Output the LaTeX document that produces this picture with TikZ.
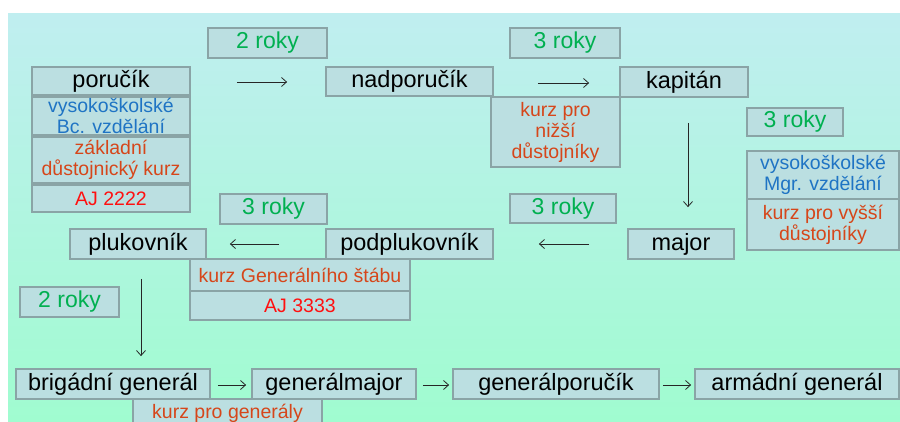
\documentclass[tikz,border=0pt]{standalone}
\usepackage{xcolor}
\usepackage{fontspec}
\setmainfont{Liberation Sans}
\usetikzlibrary{positioning,arrows.meta}

\definecolor{bgtop}{HTML}{C0EEF0}
\definecolor{bgbot}{HTML}{A0FCD0}
\definecolor{boxfill}{HTML}{BBDFE1}
\definecolor{boxline}{HTML}{8AA4A6}
\definecolor{rokygreen}{HTML}{00B050}
\definecolor{studyblue}{HTML}{1F74C4}
\definecolor{kurzorange}{HTML}{D6461A}
\definecolor{ajred}{HTML}{FF1010}

\begin{document}
\begin{tikzpicture}[x=1pt, y=-1pt,
    box/.style={draw=boxline, line width=1.8pt, fill=boxfill, inner sep=0pt, align=center},
    rank/.style={box, font=\fontsize{23.5}{25}\selectfont},
    roky/.style={box, text=rokygreen, font=\fontsize{23}{25}\selectfont},
    study/.style={box, text=studyblue, font=\fontsize{19.5}{20.5}\selectfont},
    kurz/.style={box, text=kurzorange, font=\fontsize{19.5}{21}\selectfont},
    aj/.style={box, text=ajred, font=\fontsize{19.5}{21}\selectfont},
    step arrow/.style={draw=black!85, line width=0.8pt, -{Straight Barb[length=5pt,width=9pt]}}]
\useasboundingbox (0,0) rectangle (900,421);
\clip (0,0) rectangle (900,421);
\shade[top color=bgtop, bottom color=bgbot] (8,13) rectangle (900,421);

% first row
\node[roky, minimum width=119pt, minimum height=30pt] (roky_1) at (267.5,43) {2 roky};
\node[rank, minimum width=158pt, minimum height=28pt] (porucik) at (111,81) {poručík};
\node[study, minimum width=158pt, minimum height=38pt] (porucik_bc) at (111,116) {vysokoškolské\\Bc. vzdělání};
\node[kurz, minimum width=158pt, minimum height=46pt] (porucik_kurz) at (111,160) {základní\\důstojnický kurz};
\node[aj, minimum width=158pt, minimum height=27pt] (porucik_aj) at (111,198.5) {AJ 2222};
\node[rank, minimum width=167pt, minimum height=29pt] (nadporucik) at (409.5,81.5) {nadporučík};
\node[roky, minimum width=110pt, minimum height=30pt] (roky_2) at (565,43) {3 roky};
\node[rank, minimum width=128pt, minimum height=30pt] (kapitan) at (684,82) {kapitán};
\node[kurz, minimum width=129pt, minimum height=70pt] (nadporucik_kurz) at (555.5,132) {kurz pro\\nižší\\důstojníky};

% right column
\node[roky, minimum width=96pt, minimum height=28pt] (roky_3) at (795,122) {3 roky};
\node[study, minimum width=152pt, minimum height=48pt] (major_mgr) at (823,175) {vysokoškolské\\Mgr. vzdělání};
\node[kurz, minimum width=152pt, minimum height=51pt] (major_kurz) at (823,224.5) {kurz pro vyšší\\důstojníky};

% second row
\node[roky, minimum width=107pt, minimum height=30pt] (roky_4) at (273.5,209) {3 roky};
\node[roky, minimum width=106pt, minimum height=29pt] (roky_5) at (563,208.5) {3 roky};
\node[rank, minimum width=136pt, minimum height=30pt] (plukovnik) at (138,244) {plukovník};
\node[rank, minimum width=167pt, minimum height=30pt] (podplukovnik) at (409.5,244) {podplukovník};
\node[rank, minimum width=106pt, minimum height=30pt] (major) at (681,244) {major};
\node[kurz, minimum width=220pt, minimum height=32pt] (stab_kurz) at (300,275) {kurz Generálního štábu};
\node[aj, minimum width=220pt, minimum height=29pt] (stab_aj) at (300,305.5) {AJ 3333};
\node[roky, minimum width=99pt, minimum height=30pt] (roky_6) at (69.5,302) {2 roky};

% generals
\node[rank, minimum width=194pt, minimum height=30pt] (brigadni) at (113,384) {brigádní generál};
\node[rank, minimum width=164pt, minimum height=30pt] (genmajor) at (334,384) {generálmajor};
\node[rank, minimum width=206pt, minimum height=30pt] (genporucik) at (556,384) {generálporučík};
\node[rank, minimum width=204pt, minimum height=30pt] (armadni) at (797,384) {armádní generál};
\node[kurz, minimum width=189pt, minimum height=28pt] (general_kurz) at (227.5,413) {kurz pro generály};

\draw[step arrow, shorten <=46pt, shorten >=38pt] ([yshift=-1pt]porucik.east) -- ([yshift=-1pt]porucik.east -| nadporucik.west);
\draw[step arrow, shorten <=44pt, shorten >=30pt] ([yshift=-1.5pt]nadporucik.east) -- ([yshift=-1.5pt]nadporucik.east -| kapitan.west);
\draw[step arrow, shorten <=25pt, shorten >=21pt] ([xshift=4pt]kapitan.south) -- ([xshift=4pt]kapitan.south |- major.north);
\draw[step arrow, shorten <=38pt, shorten >=45pt] (major.west) -- (major.west -| podplukovnik.east);
\draw[step arrow, shorten <=46pt, shorten >=23pt] (podplukovnik.west) -- (podplukovnik.west -| plukovnik.east);
\draw[step arrow, shorten <=19pt, shorten >=12pt] ([xshift=3pt]plukovnik.south) -- ([xshift=3pt]plukovnik.south |- brigadni.north);
\draw[step arrow, shorten <=7pt, shorten >=5pt] ([yshift=-1pt]brigadni.east) -- ([yshift=-1pt]brigadni.east -| genmajor.west);
\draw[step arrow, shorten <=6pt, shorten >=3pt] ([yshift=-1pt]genmajor.east) -- ([yshift=-1pt]genmajor.east -| genporucik.west);
\draw[step arrow, shorten <=3pt, shorten >=3pt] ([yshift=-1pt]genporucik.east) -- ([yshift=-1pt]genporucik.east -| armadni.west);

\end{tikzpicture}
\end{document}
